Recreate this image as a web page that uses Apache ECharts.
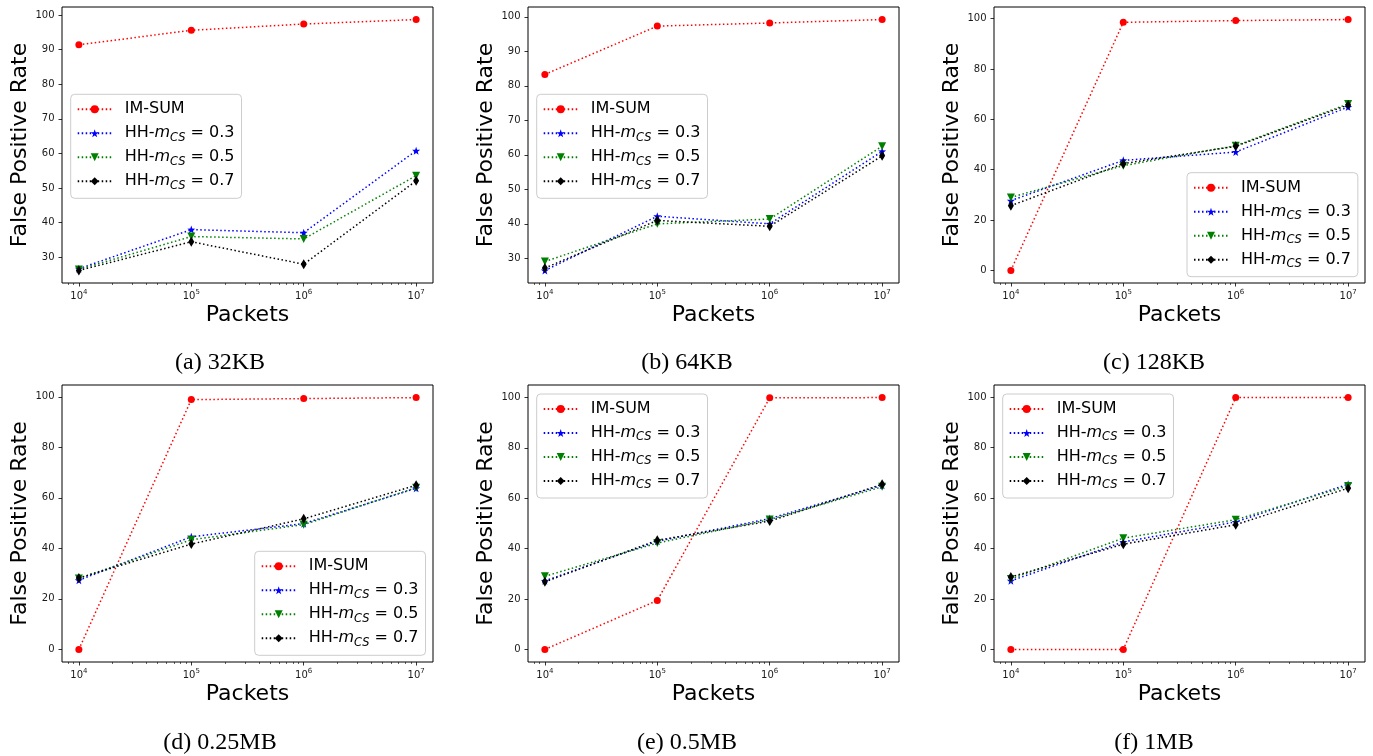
<!DOCTYPE html>
<html><head><meta charset="utf-8">
<script src="https://cdn.jsdelivr.net/npm/echarts@6/dist/echarts.min.js"></script>
<style>html,body{margin:0;padding:0;background:#fff}#c{width:1373px;height:756px}</style>
</head><body><div id="c"></div>
<script>
// ---------- data ----------
const packets = [1e4, 1e5, 1e6, 1e7];
const captions = ['(a) 32KB', '(b) 64KB', '(c) 128KB', '(d) 0.25MB', '(e) 0.5MB', '(f) 1MB'];
const seriesNames = ['IM-SUM', 'HH-mCS = 0.3', 'HH-mCS = 0.5', 'HH-mCS = 0.7'];
const imSum = [
  [91.4, 95.6, 97.4, 98.7],
  [83.3, 97.3, 98.2, 99.2],
  [0, 98.5, 99.2, 99.6],
  [0, 98.9, 99.3, 99.7],
  [0, 19.4, 99.8, 99.9],
  [0, 0, 99.8, 99.8]
];
const hh03 = [
  [26.7, 38.0, 37.1, 60.8],
  [26.5, 42.2, 40.0, 61.0],
  [27.7, 43.7, 47.0, 64.9],
  [27.4, 44.6, 49.8, 63.8],
  [27.2, 42.9, 51.9, 65.1],
  [27.2, 42.6, 50.5, 65.5]
];
const hh05 = [
  [26.5, 36.0, 35.3, 53.6],
  [29.1, 40.0, 41.4, 62.5],
  [29.0, 41.6, 49.5, 66.1],
  [28.1, 43.4, 49.4, 64.0],
  [29.0, 42.2, 51.5, 64.5],
  [27.9, 44.1, 51.4, 64.8]
];
const hh07 = [
  [26.2, 34.5, 28.0, 52.1],
  [27.2, 41.0, 39.3, 59.7],
  [25.7, 42.4, 49.3, 65.7],
  [28.3, 41.7, 51.7, 65.0],
  [26.8, 43.3, 50.9, 65.5],
  [28.7, 41.7, 49.4, 63.9]
];
const yTicksTop = [30, 40, 50, 60, 70, 80, 90, 100];
const yTicksFull = [0, 20, 40, 60, 80, 100];
const xTicks = [1e4, 1e5, 1e6, 1e7];
const xMinorTicks = [8e3, 9e3, 2e4, 3e4, 4e4, 5e4, 6e4, 7e4, 8e4, 9e4, 2e5, 3e5, 4e5, 5e5, 6e5, 7e5, 8e5, 9e5, 2e6, 3e6, 4e6, 5e6, 6e6, 7e6, 8e6, 9e6];

// ---------- layout / style ----------
const grids = [
  {left: 62, top: 7, width: 371, height: 276},
  {left: 528, top: 7, width: 371, height: 276},
  {left: 994, top: 7, width: 371, height: 276},
  {left: 62, top: 385, width: 371, height: 277},
  {left: 528, top: 385, width: 371, height: 277},
  {left: 994, top: 385, width: 371, height: 277}
];
const legendPos = [
  [70.7, 94.3], [536.7, 94.3], [1187, 172.7],
  [254.7, 551.3], [536.7, 394], [1002.7, 394]
];
const captionPos = [[220, 363], [687, 363], [1154, 363], [220, 743], [687, 743], [1154, 743]];
const panelYTicks = [yTicksTop, yTicksTop, yTicksFull, yTicksFull, yTicksFull, yTicksFull];
const STAR = 'path://M0,-10 L2.35,-3.24 L9.51,-3.09 L3.8,1.24 L5.88,8.09 L0,4 L-5.88,8.09 L-3.8,1.24 L-9.51,-3.09 L-2.35,-3.24 Z';
const styles = [
  {color: '#ff0000', symbol: 'circle', size: 7, rot: 0},
  {color: '#0000ff', symbol: STAR, size: 8, rot: 0},
  {color: '#008000', symbol: 'triangle', size: 8, rot: 180},
  {color: '#000000', symbol: 'diamond', size: [6, 10], rot: 0}
];
const FONT = 'DejaVu Sans';
const LOGMIN = Math.pow(10, 3.85), LOGMAX = Math.pow(10, 7.15);

const option = {
  animation: false,
  backgroundColor: '#fff',
  grid: [], xAxis: [], yAxis: [], series: [], legend: [], graphic: []
};

for (let i = 0; i < 6; i++) {
  const g = grids[i];
  option.grid.push(Object.assign({show: true, borderColor: '#000', borderWidth: 1, backgroundColor: '#fff'}, g));
  const all = [].concat(imSum[i], hh03[i], hh05[i], hh07[i]);
  const lo = Math.min.apply(null, all), hi = Math.max.apply(null, all);
  const pad = (hi - lo) * 0.05;
  // major x axis
  option.xAxis.push({
    type: 'log', gridIndex: i, min: LOGMIN, max: LOGMAX, position: 'bottom',
    name: 'Packets', nameLocation: 'middle', nameGap: 21,
    nameTextStyle: {fontFamily: FONT, fontSize: 22, color: '#000'},
    axisLine: {show: false, onZero: false},
    splitLine: {show: false},
    axisTick: {show: true, inside: false, length: 3.5, lineStyle: {color: '#000', width: 0.8}, customValues: xTicks},
    axisLabel: {
      show: true, margin: 6, customValues: xTicks,
      formatter: v => '{b|10}{p|' + Math.round(Math.log10(v)) + '}',
      rich: {
        b: {fontFamily: FONT, fontSize: 10, color: '#1a1a1a', lineHeight: 12, verticalAlign: 'bottom'},
        p: {fontFamily: FONT, fontSize: 7, color: '#1a1a1a', lineHeight: 8, verticalAlign: 'top'}
      }
    }
  });
  // minor x ticks
  option.xAxis.push({
    type: 'log', gridIndex: i, min: LOGMIN, max: LOGMAX, position: 'bottom',
    axisLine: {show: false, onZero: false}, splitLine: {show: false},
    axisTick: {show: true, inside: false, length: 2, lineStyle: {color: '#000', width: 0.6}, customValues: xMinorTicks},
    axisLabel: {show: false}
  });
  option.yAxis.push({
    type: 'value', gridIndex: i, min: lo - pad, max: hi + pad,
    name: 'False Positive Rate', nameLocation: 'middle', nameGap: 30,
    nameTextStyle: {fontFamily: FONT, fontSize: 22, color: '#000'},
    axisLine: {show: false, onZero: false}, splitLine: {show: false},
    axisTick: {show: true, length: 3.5, lineStyle: {color: '#000', width: 0.8}, customValues: panelYTicks[i]},
    axisLabel: {show: true, margin: 7.5, customValues: panelYTicks[i], fontFamily: FONT, fontSize: 10, color: '#1a1a1a'}
  });
  [imSum, hh03, hh05, hh07].forEach((arr, s) => {
    const st = styles[s];
    option.series.push({
      type: 'line', name: seriesNames[s], xAxisIndex: 2 * i, yAxisIndex: i,
      data: packets.map((p, k) => [p, arr[i][k]]),
      symbol: st.symbol, symbolSize: st.size, symbolRotate: st.rot,
      showAllSymbol: true, clip: false,
      lineStyle: {color: st.color, width: 1.5, type: [1.5, 2.5]},
      itemStyle: {color: st.color, borderWidth: 0},
      z: 2 + s
    });
  });
  option.legend.push({
    left: legendPos[i][0], top: legendPos[i][1], orient: 'vertical',
    data: seriesNames, selectedMode: false,
    itemWidth: 34, itemHeight: 10, itemGap: 4,
    padding: [5, 7, 7, 6],
    borderColor: '#cccccc', borderWidth: 1, borderRadius: 4,
    backgroundColor: 'rgba(255,255,255,0.8)',
    formatter: name => {
      if (name === 'IM-SUM') return '{n|IM-SUM}';
      const val = name.split('= ')[1];
      return '{n|HH-}{i|m}{s|CS}{n| = ' + val + '}';
    },
    textStyle: {
      padding: [0, 0, 0, 8],
      lineHeight: 20,
      rich: {
        n: {fontFamily: FONT, fontSize: 16, color: '#000', lineHeight: 20, height: 20},
        i: {fontFamily: FONT, fontSize: 16, fontStyle: 'italic', color: '#000', lineHeight: 20, height: 20},
        s: {fontFamily: FONT, fontSize: 11.4, fontStyle: 'italic', color: '#000', lineHeight: 12, verticalAlign: 'bottom'}
      }
    }
  });
  option.graphic.push({
    type: 'text', x: captionPos[i][0], y: captionPos[i][1],
    style: {text: captions[i], fontFamily: 'Liberation Serif', fontSize: 24, fill: '#000',
      align: 'center', verticalAlign: 'middle', textAlign: 'center', textVerticalAlign: 'middle'}
  });
}

const chart = echarts.init(document.getElementById('c'), null, {renderer: 'canvas'});
chart.setOption(option);
</script>
</body></html>
